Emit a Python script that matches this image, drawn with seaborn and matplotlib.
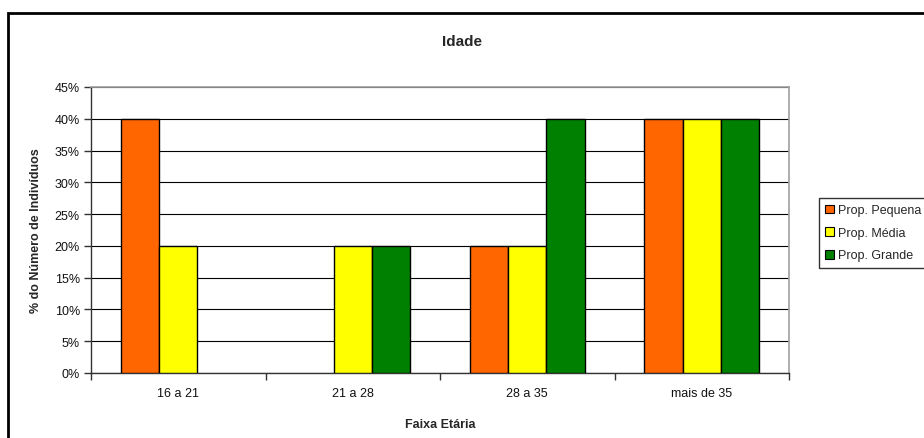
import matplotlib
matplotlib.use("Agg")
import matplotlib.pyplot as plt
import seaborn as sns
import pandas as pd
from matplotlib.patches import Rectangle
from matplotlib.ticker import MultipleLocator, FixedLocator, PercentFormatter

categorias = ["16 a 21", "21 a 28", "28 a 35", "mais de 35"]
series = ["Prop. Pequena", "Prop. Média", "Prop. Grande"]
prop_pequena = [0.40, 0.00, 0.20, 0.40]
prop_media = [0.20, 0.20, 0.20, 0.40]
prop_grande = [0.00, 0.20, 0.40, 0.40]
cores = ["#FF6600", "#FFFF00", "#008000"]

rows = []
for s, vals in zip(series, [prop_pequena, prop_media, prop_grande]):
    for c, v in zip(categorias, vals):
        rows.append({"faixa": c, "valor": v, "prop": s})
df = pd.DataFrame(rows)

sns.set_theme(style="white")
plt.rcParams["font.family"] = ["Liberation Sans", "DejaVu Sans"]

fig = plt.figure(figsize=(9.24, 4.39), dpi=100)
fig.patch.set_facecolor("white")
ax = fig.add_axes([91/924, 1-374/439, (789-91)/924, (374-88)/439])

sns.barplot(data=df, x="faixa", y="valor", hue="prop", order=categorias,
            hue_order=series, palette=cores, width=0.66, saturation=1,
            edgecolor="black", linewidth=1.0, ax=ax, zorder=3, legend=False)
for p in ax.patches:
    if abs(p.get_height()) < 1e-9:
        p.set_linewidth(0)

ax.set_xlim(-0.5, 3.5)
ax.set_ylim(0, 0.45)
ax.yaxis.set_major_locator(MultipleLocator(0.05))
ax.yaxis.set_major_formatter(PercentFormatter(1.0, decimals=0))
ax.grid(axis="y", color="black", linewidth=0.8, zorder=0)
ax.set_axisbelow(True)
ax.xaxis.set_minor_locator(FixedLocator([-0.5, 0.5, 1.5, 2.5, 3.5]))
ax.tick_params(axis="x", which="major", length=0, pad=10, labelsize=9, labelcolor="#111111")
ax.tick_params(axis="x", which="minor", length=5, width=1, color="#333333", direction="out")
ax.tick_params(axis="y", which="major", length=5, width=1, color="#333333", direction="out",
               labelsize=9, labelcolor="#111111", pad=3)
ax.xaxis.set_ticks_position("bottom")
ax.yaxis.set_ticks_position("left")
for side in ["top", "right"]:
    ax.spines[side].set_color("#A0A0A0")
    ax.spines[side].set_linewidth(1.2)
for side in ["left", "bottom"]:
    ax.spines[side].set_color("#333333")
    ax.spines[side].set_linewidth(1.0)

ax.set_xlabel("Faixa Etária", fontsize=9, fontweight="bold", labelpad=14)
ax.set_ylabel("% do Número de Indivíduos", fontsize=9, fontweight="bold", labelpad=9)

fig.text(462/924, 1-42/439, "Idade", ha="center", va="center", fontsize=11, fontweight="bold")

handles = [Rectangle((0, 0), 1, 1, facecolor=c, edgecolor="black", linewidth=0.8) for c in cores]
leg = fig.legend(handles, series, loc="upper left", bbox_to_anchor=(819/924, 1-199/439),
                 bbox_transform=fig.transFigure, fontsize=9, frameon=True, fancybox=False,
                 handlelength=0.7, handleheight=0.7, handletextpad=0.3, labelspacing=0.85,
                 borderpad=0.5, borderaxespad=0)
leg.get_frame().set_edgecolor("black")
leg.get_frame().set_linewidth(1.0)

border = Rectangle((8/924, -0.2), 1.2, 1-14/439+0.2, transform=fig.transFigure,
                   fill=False, edgecolor="black", linewidth=2.0, clip_on=False)
fig.patches.append(border)

fig.savefig("out.png", dpi=100, facecolor="white")
